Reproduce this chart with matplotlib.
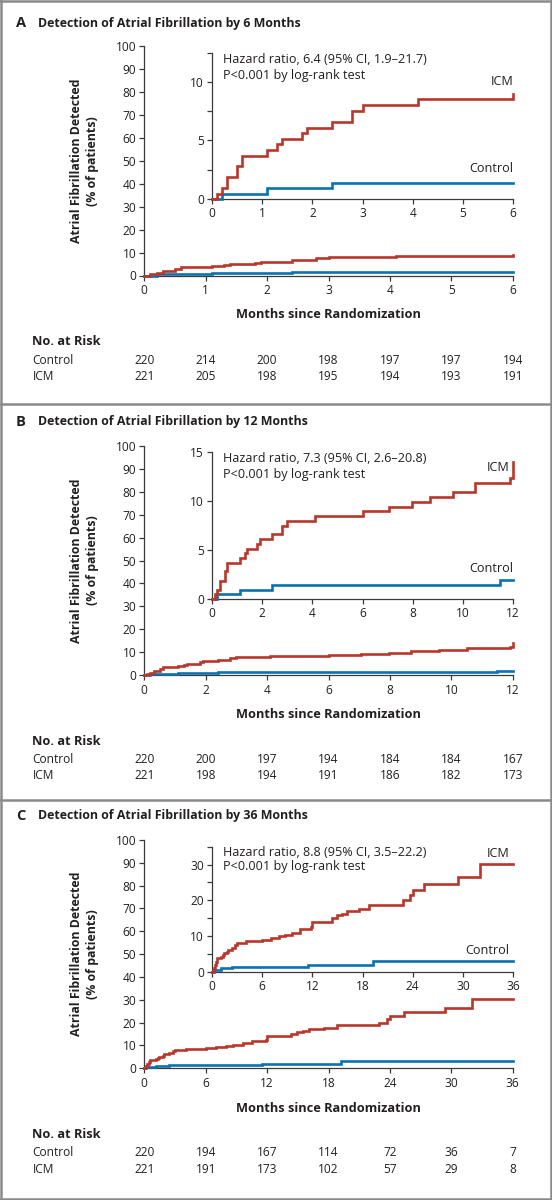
import matplotlib
matplotlib.use("Agg")
import matplotlib.pyplot as plt
from matplotlib.lines import Line2D
from matplotlib.ticker import MultipleLocator
from matplotlib.transforms import blended_transform_factory

# ---- data ----
icm_months = [0.1, 0.2, 0.3, 0.5, 0.6, 1.1, 1.3, 1.4, 1.8, 1.9, 2.4, 2.8, 3.0,
              4.1, 6.0, 7.05, 7.96, 8.7, 9.6, 10.5, 11.9, 12.0, 14.3, 14.9,
              15.5, 16.1, 17.6, 18.8, 22.9, 23.7, 24.0, 25.4, 29.4, 32.0]
icm_pct = [0.45, 0.9, 1.85, 2.8, 3.7, 4.2, 4.7, 5.1, 5.6, 6.1, 6.6, 7.5, 8.0,
           8.5, 9.0, 9.4, 9.9, 10.4, 10.9, 11.9, 12.4, 14.0, 14.9, 15.8,
           16.2, 17.0, 17.6, 18.8, 20.0, 21.4, 22.8, 24.6, 26.5, 30.2]
ctrl_months = [0.2, 1.1, 2.4, 11.5, 19.2]
ctrl_pct = [0.45, 0.9, 1.4, 1.95, 3.0]

horizons = [6, 12, 36]
x_steps = [1, 2, 6]
letters = ["A", "B", "C"]
titles = ["Detection of Atrial Fibrillation by 6 Months",
          "Detection of Atrial Fibrillation by 12 Months",
          "Detection of Atrial Fibrillation by 36 Months"]
hazard = ["Hazard ratio, 6.4 (95% CI, 1.9\u201321.7)",
          "Hazard ratio, 7.3 (95% CI, 2.6\u201320.8)",
          "Hazard ratio, 8.8 (95% CI, 3.5\u201322.2)"]
pvalue = "P<0.001 by log-rank test"

risk_control = [[220, 214, 200, 198, 197, 197, 194],
                [220, 200, 197, 194, 184, 184, 167],
                [220, 194, 167, 114, 72, 36, 7]]
risk_icm = [[221, 205, 198, 195, 194, 193, 191],
            [221, 198, 194, 191, 186, 182, 173],
            [221, 191, 173, 102, 57, 29, 8]]

# ---- layout (pixel positions, top origin) ----
W, H = 552, 1200
RED = "#B8372B"
BLUE = "#0A72B0"
INK = "#231f20"
GRAY = "#8a8a8a"

layout = [
    dict(title=23, main=(46, 275.5), ins=(52.5, 199), ins_max=12.5, major=5, minor=2.5,
         xlab=315, nar=342, ctrl=360, icm=376, icm_lab=(6.0, 10.0), ctrl_lab=(6.0, 2.6)),
    dict(title=422, main=(445.7, 675.3), ins=(452.3, 598.7), ins_max=15, major=5, minor=None,
         xlab=715, nar=741.7, ctrl=759.3, icm=775.5, icm_lab=(11.85, 13.4), ctrl_lab=(12.0, 3.1)),
    dict(title=816, main=(840, 1068.3), ins=(846.7, 971.7), ins_max=35, major=10, minor=5,
         xlab=1108, nar=1135, ctrl=1152.7, icm=1169.3, icm_lab=(35.6, 33.0), ctrl_lab=(35.6, 6.0)),
]
MAIN_L, MAIN_R = 144.3, 512.7
INS_L, INS_R = 212.0, 513.0

FS_TICK = 8.6
FS_TEXT = 9.1
FS_BOLD = 8.9
FS_XLAB = 9.2

plt.rcParams['font.family'] = ['Open Sans', 'DejaVu Sans']
plt.rcParams['text.color'] = INK
plt.rcParams['axes.edgecolor'] = "#3a3a3a"
plt.rcParams['xtick.color'] = "#3a3a3a"
plt.rcParams['ytick.color'] = "#3a3a3a"
plt.rcParams['xtick.labelcolor'] = INK
plt.rcParams['ytick.labelcolor'] = INK

fig = plt.figure(figsize=(W / 100, H / 100), dpi=100)


def fx(x):
    return x / W


def fy(y):
    return 1 - y / H


def box(left, right, top, bottom):
    return [fx(left), fy(bottom), fx(right) - fx(left), fy(top) - fy(bottom)]


def curve(months, pct, horizon):
    xs, ys = [0.0], [0.0]
    for t, p in zip(months, pct):
        if t <= horizon:
            xs.append(t)
            ys.append(p)
    xs.append(horizon)
    ys.append(ys[-1])
    return xs, ys


def style_axes(ax):
    for side in ["top", "right"]:
        ax.spines[side].set_visible(False)
    for side in ["left", "bottom"]:
        ax.spines[side].set_linewidth(0.9)
    ax.tick_params(which="both", direction="out", length=3.8, width=0.9,
                   labelsize=FS_TICK, pad=2)


def draw_lines(ax, horizon):
    for months, pct, color in [(ctrl_months, ctrl_pct, BLUE), (icm_months, icm_pct, RED)]:
        xs, ys = curve(months, pct, horizon)
        ax.step(xs, ys, where="post", color=color, lw=1.9, clip_on=False,
                zorder=5, solid_joinstyle="miter")


for i, lay in enumerate(layout):
    hz = horizons[i]
    xticks = list(range(0, hz + 1, x_steps[i]))

    # main axes
    ax = fig.add_axes(box(MAIN_L, MAIN_R, lay["main"][0], lay["main"][1]))
    style_axes(ax)
    ax.set_xlim(0, hz)
    ax.set_ylim(0, 100)
    ax.set_xticks(xticks)
    ax.set_yticks(range(0, 101, 10))
    ax.tick_params(axis="x", pad=2.2)
    draw_lines(ax, hz)

    # inset
    ins = fig.add_axes(box(INS_L, INS_R, lay["ins"][0], lay["ins"][1]))
    style_axes(ins)
    ins.patch.set_alpha(0)
    ins.set_xlim(0, hz)
    ins.set_ylim(0, lay["ins_max"])
    ins.set_xticks(xticks)
    ins.yaxis.set_major_locator(MultipleLocator(lay["major"]))
    if lay["minor"]:
        ins.yaxis.set_minor_locator(MultipleLocator(lay["minor"]))
    ins.tick_params(axis="x", pad=2.2)
    draw_lines(ins, hz)
    ins.text(0.038, 0.955, hazard[i], transform=ins.transAxes, fontsize=FS_TEXT,
             va="center", ha="left")
    ins.text(0.038, 0.845, pvalue, transform=ins.transAxes, fontsize=FS_TEXT,
             va="center", ha="left")
    ins.text(*lay["icm_lab"], "ICM", fontsize=FS_TEXT, ha="right", va="center")
    ins.text(*lay["ctrl_lab"], "Control", fontsize=FS_TEXT, ha="right", va="center")

    # titles and labels
    fig.text(fx(16), fy(lay["title"]), letters[i], fontsize=10.5, fontweight="bold",
             va="center", ha="left")
    fig.text(fx(38), fy(lay["title"]), titles[i], fontsize=FS_BOLD, fontweight="bold",
             va="center", ha="left")
    yc = (lay["main"][0] + lay["main"][1]) / 2
    fig.text(fx(76), fy(yc), "Atrial Fibrillation Detected", fontsize=FS_BOLD,
             fontweight="bold", rotation=90, va="center", ha="center")
    fig.text(fx(92.5), fy(yc), "(% of patients)", fontsize=FS_BOLD,
             fontweight="bold", rotation=90, va="center", ha="center")
    fig.text(fx((MAIN_L + MAIN_R) / 2), fy(lay["xlab"]), "Months since Randomization",
             fontsize=FS_XLAB, fontweight="bold", va="center", ha="center")

    # number at risk
    fig.text(fx(32.5), fy(lay["nar"]), "No. at Risk", fontsize=FS_XLAB,
             fontweight="bold", va="center", ha="left")
    fig.text(fx(32.5), fy(lay["ctrl"]), "Control", fontsize=FS_TICK, va="center", ha="left")
    fig.text(fx(32.5), fy(lay["icm"]), "ICM", fontsize=FS_TICK, va="center", ha="left")
    tr = blended_transform_factory(ax.transData, fig.transFigure)
    for t, c, m in zip(xticks, risk_control[i], risk_icm[i]):
        ax.text(t, fy(lay["ctrl"]), str(c), transform=tr, fontsize=FS_TICK,
                ha="center", va="center", clip_on=False)
        ax.text(t, fy(lay["icm"]), str(m), transform=tr, fontsize=FS_TICK,
                ha="center", va="center", clip_on=False)

# frame and panel separators
for y in [1.2, 404, 800, 1198.5]:
    fig.add_artist(Line2D([0, 1], [fy(y), fy(y)], color=GRAY, lw=1.8))
for x in [1.2, 550.8]:
    fig.add_artist(Line2D([fx(x), fx(x)], [0, 1], color=GRAY, lw=1.8))

fig.savefig("out.png", dpi=100)
